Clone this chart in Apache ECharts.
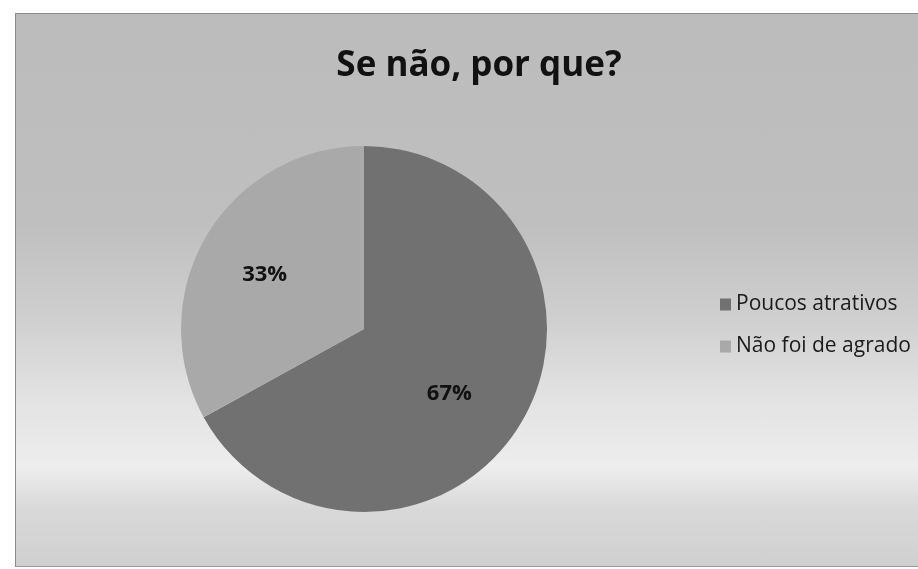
<!DOCTYPE html>
<html>
<head>
<meta charset="utf-8">
<script src="https://cdn.jsdelivr.net/npm/echarts@6/dist/echarts.min.js"></script>
<style>
  html, body { margin: 0; padding: 0; background: #ffffff; }
  #bg {
    position: absolute; left: 15px; top: 13px; width: 903px; height: 554px;
    border-left: 1px solid #8a8a8a; border-top: 1px solid #8a8a8a; border-bottom: 1px solid #9a9a9a;
    box-sizing: border-box;
    background: linear-gradient(to bottom, #bcbcbc 0%, #bfbfbf 38%, #cfcfcf 55%, #e3e3e3 70%, #ededed 82%, #d8d8d8 90%, #d0d0d0 100%);
  }
  #chart { position: absolute; left: 0; top: 0; width: 918px; height: 569px; }
</style>
</head>
<body>
<div id="bg"></div>
<div id="chart"></div>
<script>
const titleText = 'Se não, por que?';
const categories = ['Poucos atrativos', 'Não foi de agrado'];
const values = [67, 33];
const colors = ['#717171', '#a9a9a9'];
// small label nudges (style only), per slice
const labelNudge = [[4, 17], [-18, -6]];

const chart = echarts.init(document.getElementById('chart'), null, { renderer: 'canvas' });
chart.setOption({
  backgroundColor: 'transparent',
  animation: false,
  title: {
    text: titleText,
    left: 474,
    top: 61,
    textAlign: 'center',
    textVerticalAlign: 'middle',
    textStyle: { fontFamily: 'Open Sans', fontWeight: 'bold', fontSize: 35, color: '#111111' }
  },
  legend: {
    orient: 'vertical',
    left: 720,
    top: 294,
    padding: 0,
    itemWidth: 11,
    itemHeight: 12,
    itemGap: 21,
    icon: 'rect',
    data: categories,
    textStyle: { fontFamily: 'Open Sans', fontSize: 21, color: '#1a1a1a' }
  },
  series: [{
    type: 'pie',
    center: [364, 329],
    radius: 183,
    startAngle: 90,
    clockwise: true,
    silent: true,
    data: categories.map((c, i) => ({ name: c, value: values[i], itemStyle: { color: colors[i] } })),
    label: {
      show: true,
      position: 'inside',
      formatter: '{c}%',
      fontFamily: 'Open Sans',
      fontWeight: 'bold',
      fontSize: 22,
      color: '#111111'
    },
    labelLayout: function (p) {
      const n = labelNudge[p.dataIndex];
      return { dx: n[0], dy: n[1] };
    },
    labelLine: { show: false },
    itemStyle: { borderWidth: 0 }
  }]
});
</script>
</body>
</html>
